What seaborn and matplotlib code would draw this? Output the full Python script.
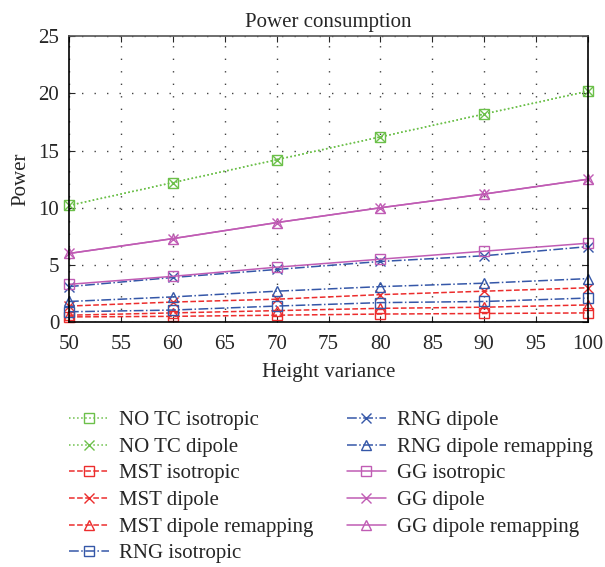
import matplotlib
matplotlib.use("Agg")
import matplotlib.pyplot as plt
import seaborn as sns
import numpy as np

heights = [50, 60, 70, 80, 90, 100]

notc_iso = [10.2, 12.2, 14.2, 16.2, 18.2, 20.2]
notc_dip = [10.2, 12.2, 14.2, 16.2, 18.2, 20.2]
mst_iso = [0.45, 0.5, 0.6, 0.7, 0.75, 0.8]
mst_dip = [1.4, 1.75, 2.0, 2.4, 2.7, 3.0]
mst_remap = [0.6, 0.8, 1.0, 1.2, 1.3, 1.5]
rng_iso = [0.9, 1.05, 1.4, 1.7, 1.8, 2.1]
rng_dip = [3.1, 3.9, 4.6, 5.3, 5.8, 6.6]
rng_remap = [1.8, 2.2, 2.7, 3.1, 3.4, 3.8]
gg_iso = [3.3, 4.0, 4.8, 5.5, 6.2, 6.9]
gg_dip = [6.0, 7.3, 8.7, 10.0, 11.2, 12.5]
gg_remap = [6.0, 7.3, 8.7, 10.0, 11.2, 12.5]

green = "#6cc04a"
red = "#ec2d2d"
blue = "#3557a8"
magenta = "#c05cb4"

series = [
    ("NO TC isotropic", notc_iso, green, ":", "s"),
    ("NO TC dipole", notc_dip, green, ":", "x"),
    ("MST isotropic", mst_iso, red, "--", "s"),
    ("MST dipole", mst_dip, red, "--", "x"),
    ("MST dipole remapping", mst_remap, red, "--", "^"),
    ("RNG isotropic", rng_iso, blue, "-.", "s"),
    ("RNG dipole", rng_dip, blue, "-.", "x"),
    ("RNG dipole remapping", rng_remap, blue, "-.", "^"),
    ("GG isotropic", gg_iso, magenta, "-", "s"),
    ("GG dipole", gg_dip, magenta, "-", "x"),
    ("GG dipole remapping", gg_remap, magenta, "-", "^"),
]

sns.set_style("ticks")
plt.rcParams['font.family'] = ['Liberation Serif', 'DejaVu Serif']
plt.rcParams['xtick.direction'] = 'in'
plt.rcParams['ytick.direction'] = 'in'

fig = plt.figure(figsize=(6.05, 5.67), dpi=100)
ax = fig.add_axes([0.114, 0.432, 0.858, 0.504])

for label, vals, color, ls, mk in series:
    sns.lineplot(x=heights, y=vals, ax=ax, color=color, linestyle=ls,
                 marker=mk, markersize=7, markerfacecolor='none',
                 markeredgecolor=color, markeredgewidth=1.0,
                 linewidth=1.1, label=label, clip_on=False)

ax.set_xlim(50, 100)
ax.set_ylim(0, 25)
ax.set_xticks(np.arange(50, 101, 5))
ax.set_yticks(np.arange(0, 26, 5))
ax.grid(True, color='#444444', linestyle=(0, (1, 8)), linewidth=1.0)
for s in ax.spines.values():
    s.set_linewidth(1.2)
    s.set_color('black')
ax.spines['top'].set_color('#555555')
ax.tick_params(labelsize=15, length=4, top=True, right=True)
ax.tick_params(axis='x', pad=9)
ax.tick_params(axis='y', pad=7)
ax.set_title("Power consumption", fontsize=15, pad=7)
ax.set_xlabel("Height variance", fontsize=15, labelpad=7)
ax.set_ylabel("Power", fontsize=15, labelpad=6)

handles, labels = ax.get_legend_handles_labels()
ax.legend_.remove()
fig.legend(handles, labels, ncol=2, loc='upper left',
           bbox_to_anchor=(0.083, 0.309), frameon=False, fontsize=15,
           handlelength=1.9, columnspacing=1.6, labelspacing=0.34,
           handletextpad=0.5)

fig.savefig("out.png", dpi=100)
